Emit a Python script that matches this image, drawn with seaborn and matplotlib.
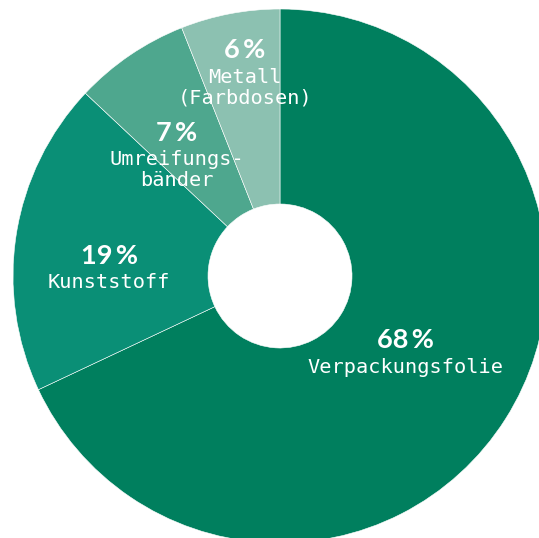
import matplotlib
matplotlib.use("Agg")
import matplotlib.pyplot as plt
import seaborn as sns

# data
categories = ["Verpackungsfolie", "Kunststoff", "Umreifungs-\nbänder", "Metall\n(Farbdosen)"]
shares = [68, 19, 7, 6]
pct_labels = ["68\u2009%", "19\u2009%", "7\u2009%", "6\u2009%"]

# label anchors: x centre, baseline of percent, baseline of first name line
# (axes data units, outer radius = 1)
label_x = [0.468, -0.640, -0.386, -0.131]
pct_y = [-0.270, 0.045, 0.506, 0.816]
name_y = [-0.363, -0.045, 0.416, 0.723]

colors = ["#007f5e", "#0a8f76", "#4ea78e", "#8cc1b1"]

sns.set_theme(style="white")
plt.rcParams["font.family"] = ["Lato", "DejaVu Sans"]

W, H = 539, 538
cx, cy, R, r_hole = 280, 276, 267, 72
line_step = 21 / R  # spacing between name lines

fig = plt.figure(figsize=(W / 100, H / 100), dpi=100)
ax = fig.add_axes([(cx - R) / W, (H - cy - R) / H, 2 * R / W, 2 * R / H])

ax.pie(shares, colors=colors, startangle=90, counterclock=False, radius=1,
       wedgeprops=dict(width=1 - r_hole / R, edgecolor="#ffffff", linewidth=0.4))

for x, py, ny, pct, name in zip(label_x, pct_y, name_y, pct_labels, categories):
    ax.text(x, py, pct, ha="center", va="baseline", color="white",
            fontsize=19.5, fontweight="bold", family=["Lato", "DejaVu Sans"])
    for i, line in enumerate(name.split("\n")):
        ax.text(x, ny - i * line_step, line, ha="center", va="baseline",
                color="white", fontsize=14.6, fontweight="light",
                family=["DejaVu Sans Mono"])

ax.set_xlim(-1, 1)
ax.set_ylim(-1, 1)
ax.set_aspect("equal")
ax.axis("off")

fig.savefig("out.png", dpi=100)
